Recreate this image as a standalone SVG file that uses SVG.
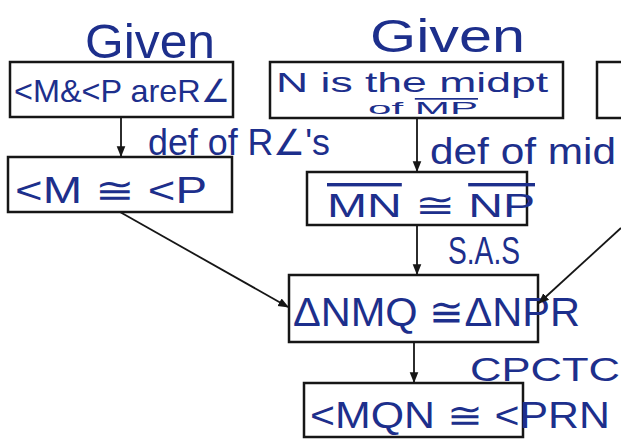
<svg xmlns="http://www.w3.org/2000/svg" width="621" height="439" viewBox="0 0 621 439">
<style>
.box{fill:none;stroke:#161616;stroke-width:2.5}
.ink{fill:#1d2f8c;font-family:"Liberation Sans",Arial,sans-serif}
.con{stroke:#161616;stroke-width:1.8;fill:none}
.ov{text-decoration:overline}
</style>
<defs>
<marker id="ah" viewBox="0 0 10 10" refX="9" refY="5" markerWidth="6" markerHeight="6" orient="auto" markerUnits="strokeWidth">
<path d="M0,1 L10,5 L0,9 z" fill="#161616"/>
</marker>
</defs>
<rect width="621" height="439" fill="#ffffff"/>
<text class="ink" x="85" y="58" font-size="48" textLength="130" lengthAdjust="spacingAndGlyphs">Given</text>
<text class="ink" x="370" y="52" font-size="46" textLength="155" lengthAdjust="spacingAndGlyphs">Given</text>
<g id="n1">
<rect class="box" x="10" y="62" width="223" height="55"/>
<text class="ink" x="14" y="102" font-size="32" textLength="216" lengthAdjust="spacingAndGlyphs">&lt;M&amp;&lt;P areR∠</text>
</g>
<g id="n2">
<rect class="box" x="270" y="62" width="293" height="56"/>
<text class="ink" x="276" y="92" font-size="28" textLength="272" lengthAdjust="spacingAndGlyphs">N is the midpt</text>
<text class="ink" x="368" y="114" font-size="17" textLength="110" lengthAdjust="spacingAndGlyphs">of <tspan class="ov">MP</tspan></text>
</g>
<g id="n3">
<rect class="box" x="597" y="62" width="40" height="56"/>
</g>
<g id="n4">
<rect class="box" x="8" y="157" width="224" height="55"/>
<text class="ink" x="15" y="203" font-size="36" textLength="192" lengthAdjust="spacingAndGlyphs">&lt;M ≅ &lt;P</text>
</g>
<g id="n5">
<rect class="box" x="307" y="172" width="220" height="53"/>
<text class="ink" x="327" y="217" font-size="34" textLength="208" lengthAdjust="spacingAndGlyphs"><tspan class="ov">MN</tspan> ≅ <tspan class="ov">NP</tspan></text>
</g>
<g id="n6">
<rect class="box" x="289" y="275" width="249" height="67"/>
<text class="ink" x="293" y="326" font-size="40" textLength="287" lengthAdjust="spacingAndGlyphs">ΔNMQ ≅ΔNPR</text>
</g>
<g id="n7">
<rect class="box" x="304" y="383" width="219" height="54"/>
<text class="ink" x="310" y="428" font-size="36" textLength="300" lengthAdjust="spacingAndGlyphs">&lt;MQN ≅ &lt;PRN</text>
</g>
<g id="labels">
<text class="ink" x="148" y="155" font-size="36" textLength="182" lengthAdjust="spacingAndGlyphs">def of R∠'s</text>
<text class="ink" x="430" y="164" font-size="36" textLength="186" lengthAdjust="spacingAndGlyphs">def of mid</text>
<text class="ink" x="448" y="264" font-size="38" textLength="72" lengthAdjust="spacingAndGlyphs">S.A.S</text>
<text class="ink" x="470" y="381" font-size="34" textLength="150" lengthAdjust="spacingAndGlyphs">CPCTC</text>
</g>
<g id="connectors">
<line class="con" x1="121" y1="117" x2="121" y2="156" marker-end="url(#ah)"/>
<line class="con" x1="417" y1="118" x2="417" y2="171" marker-end="url(#ah)"/>
<line class="con" x1="417" y1="225" x2="417" y2="274" marker-end="url(#ah)"/>
<line class="con" x1="414" y1="342" x2="414" y2="382" marker-end="url(#ah)"/>
<line class="con" stroke-width="2.5" x1="120" y1="212" x2="288" y2="307" marker-end="url(#ah)"/>
<line class="con" stroke-width="2.2" x1="621" y1="228" x2="539" y2="303" marker-end="url(#ah)"/>
</g>
</svg>
